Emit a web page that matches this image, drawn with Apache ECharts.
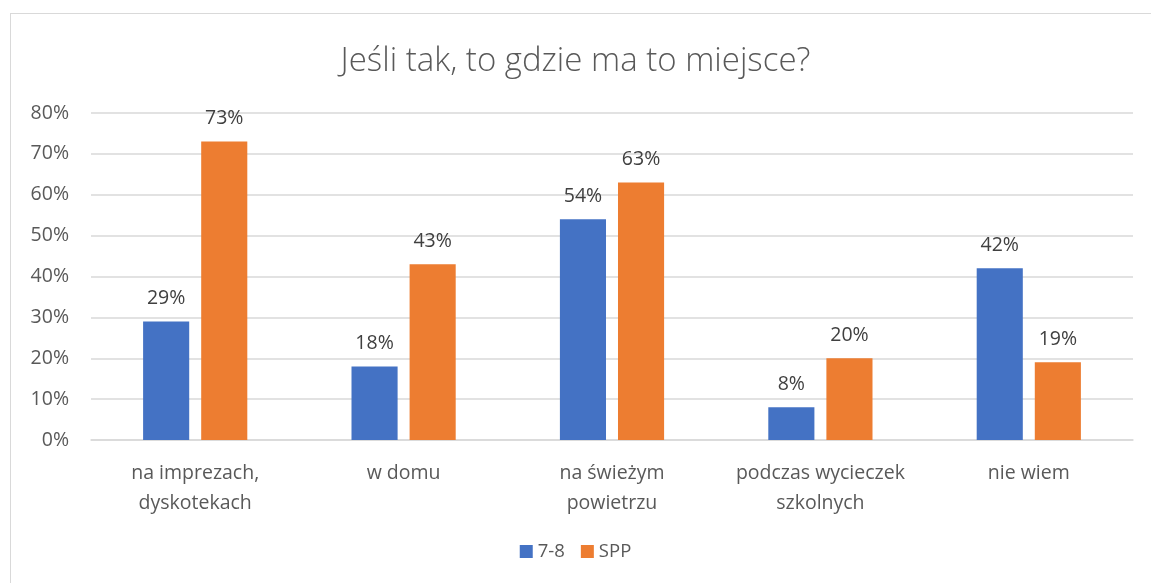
<!DOCTYPE html>
<html><head><meta charset="utf-8">
<script src="https://cdn.jsdelivr.net/npm/echarts@6/dist/echarts.min.js"></script>
<style>html,body{margin:0;padding:0;background:#fff}#c{width:1151px;height:583px;position:relative}
#frame{position:absolute;left:10px;top:13px;width:1150px;height:580px;border:1px solid #d9d9d9;box-sizing:border-box;pointer-events:none}</style>
</head><body>
<div id="c"></div><div id="frame"></div>
<script>
const categories = ['na imprezach,\ndyskotekach', 'w domu', 'na świeżym\npowietrzu', 'podczas wycieczek\nszkolnych', 'nie wiem'];
const s78 = [29, 18, 54, 8, 42];
const sSPP = [73, 43, 63, 20, 19];
const yTicks = [0, 10, 20, 30, 40, 50, 60, 70, 80];
const font = '"Open Sans", "Noto Sans", sans-serif';
const chart = echarts.init(document.getElementById('c'));
const lbl = {show: true, position: 'top', distance: 13, formatter: '{c}%', color: '#404040', fontSize: 19.5, fontFamily: font};
chart.setOption({
  animation: false,
  title: {text: 'Jeśli tak, to gdzie ma to miejsce?', left: 'center', top: 40,
    textStyle: {fontFamily: font, fontSize: 33, fontWeight: 300, color: '#595959'}},
  legend: {bottom: 17, left: 'center', itemWidth: 13, itemHeight: 13, itemGap: 16, icon: 'rect',
    textStyle: {fontFamily: font, fontSize: 18.5, color: '#595959'}},
  grid: {left: 91, right: 18, top: 113, bottom: 143},
  xAxis: {type: 'category', data: categories,
    axisLine: {lineStyle: {color: '#d9d9d9', width: 1.5}}, axisTick: {show: false},
    axisLabel: {interval: 0, hideOverlap: false, fontFamily: font, fontSize: 19.5, color: '#595959', margin: 18, lineHeight: 30}},
  yAxis: {type: 'value', min: yTicks[0], max: yTicks[yTicks.length-1], interval: 10,
    axisLabel: {formatter: '{value}%', fontFamily: font, fontSize: 19.5, color: '#595959', margin: 22},
    splitLine: {lineStyle: {color: '#d9d9d9', width: 1.5}}, axisLine: {show: false}, axisTick: {show: false}},
  series: [
    {name: '7-8', type: 'bar', data: s78, itemStyle: {color: '#4472c4'}, barGap: '26%', barCategoryGap: '50%', label: lbl},
    {name: 'SPP', type: 'bar', data: sSPP, itemStyle: {color: '#ed7d31'}, label: lbl}
  ]
});
</script></body></html>
